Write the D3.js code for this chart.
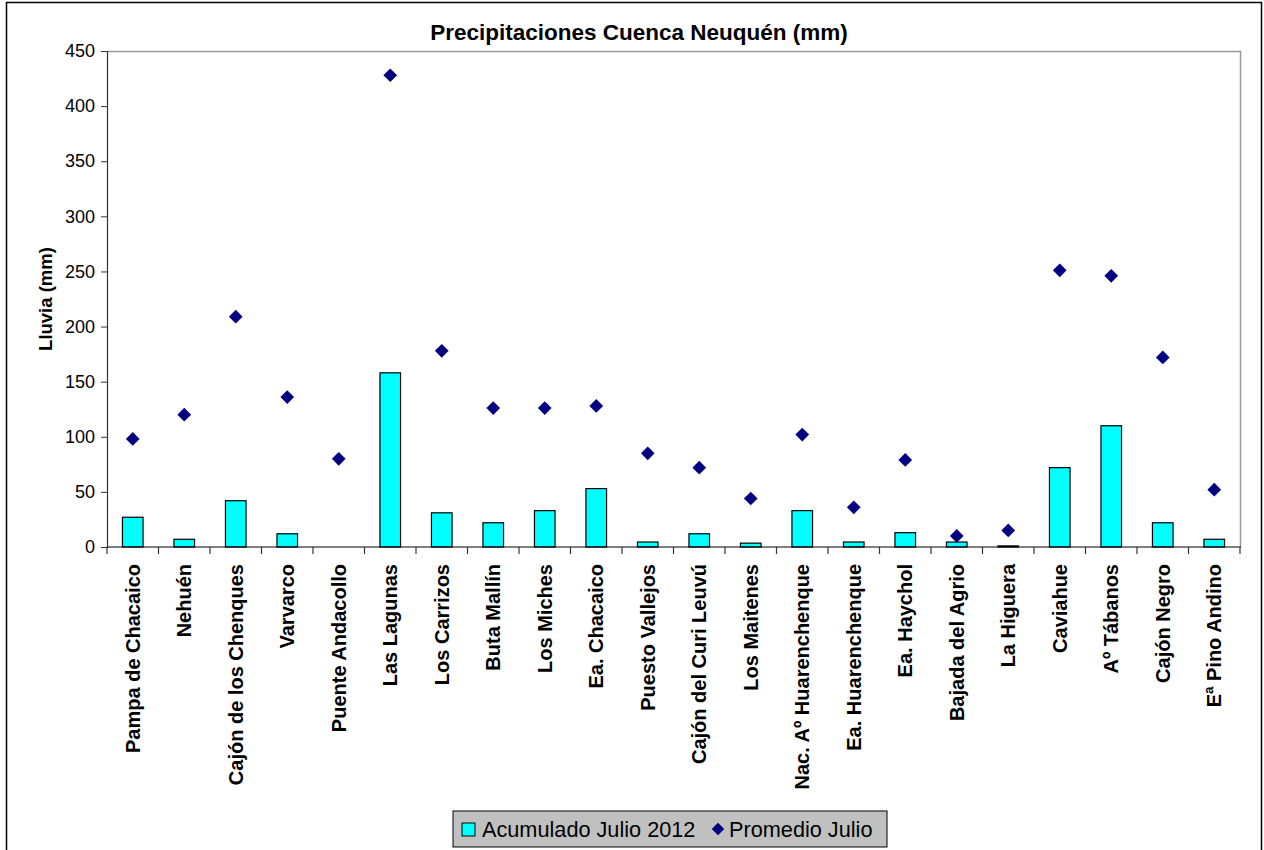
<!DOCTYPE html>
<html>
<head>
<meta charset="utf-8">
<script src="https://cdn.jsdelivr.net/npm/d3@7"></script>
<style>
  html, body { margin: 0; padding: 0; background: #fff; }
  svg { display: block; font-family: Arial, "Liberation Sans", sans-serif; }
</style>
</head>
<body>
<svg id="chart" width="1264" height="850"></svg>
<script>
// Rain gauge stations of the Neuquén basin
const stations = [
  "Pampa de Chacaico", "Nehuén", "Cajón de los Chenques", "Varvarco",
  "Puente Andacollo", "Las Lagunas", "Los Carrizos", "Buta Mallín",
  "Los Miches", "Ea. Chacaico", "Puesto Vallejos", "Cajón del Curi Leuvú",
  "Los Maitenes", "Nac. Aº Huarenchenque", "Ea. Huarenchenque", "Ea. Haychol",
  "Bajada del Agrio", "La Higuera", "Caviahue", "Aº Tábanos",
  "Cajón Negro", "Eª Pino Andino"
];
// July 2012 accumulated rainfall (mm)
const acumulado = [27, 7, 42, 12, 0, 158, 31, 22, 33, 53, 4.5, 12, 3.5, 33, 4.5, 13, 4.5, 1, 72, 110, 22, 7];
// Historical July mean (mm)
const promedio = [98, 120, 209, 136, 80, 428, 178, 126, 126, 128, 85, 72, 44, 102, 36, 79, 10, 15, 251, 246, 172, 52];
const yTicks = [0, 50, 100, 150, 200, 250, 300, 350, 400, 450];

const title = "Precipitaciones Cuenca Neuquén (mm)";
const yTitle = "Lluvia (mm)";
const seriesNames = ["Acumulado Julio 2012", "Promedio Julio"];

const svg = d3.select("#chart");
const plot = { left: 107, top: 51, right: 1240, bottom: 547 };

// Outer chart frame
svg.append("rect")
  .attr("x", 6.5).attr("y", 2.5).attr("width", 1255).attr("height", 860)
  .attr("fill", "#fff").attr("stroke", "#000").attr("stroke-width", 1.5);

const x = d3.scaleBand().domain(stations).range([plot.left, plot.right]).paddingInner(0).paddingOuter(0);
const y = d3.scaleLinear().domain([0, 450]).range([plot.bottom, plot.top]);
const barW = x.bandwidth() / 2.5;

// Plot area border (top and right)
svg.append("path")
  .attr("d", `M${plot.left},${plot.top + 0.5}H${plot.right + 0.5}V${plot.bottom}`)
  .attr("fill", "none").attr("stroke", "#999").attr("stroke-width", 1.5);

// Bars
svg.append("g").selectAll("rect").data(acumulado).join("rect")
  .attr("x", (d, i) => x(stations[i]) + (x.bandwidth() - barW) / 2)
  .attr("y", d => y(d))
  .attr("width", barW)
  .attr("height", d => y(0) - y(d))
  .attr("fill", "#00ffff")
  .attr("stroke", "#000").attr("stroke-width", 1.2)
  .style("display", d => d > 0 ? null : "none");

// Y axis
const yAxis = svg.append("g").attr("transform", `translate(${plot.left},0)`)
  .call(d3.axisLeft(y).tickValues(yTicks).tickSize(6).tickPadding(6));
yAxis.select(".domain").attr("stroke", "#333").attr("stroke-width", 1.2);
yAxis.selectAll(".tick line").attr("stroke", "#333");
yAxis.selectAll(".tick text").attr("font-size", 18).attr("fill", "#000").attr("font-family", "Arial, 'Liberation Sans', sans-serif");

// X axis with tick marks at category boundaries
const xAxisG = svg.append("g").attr("transform", `translate(0,${plot.bottom})`);
xAxisG.append("line").attr("x1", plot.left).attr("x2", plot.right + 1)
  .attr("stroke", "#000").attr("stroke-width", 1.2);
const bounds = stations.map(s => x(s)).concat([plot.right]);
xAxisG.selectAll("line.tk").data(bounds).join("line").attr("class", "tk")
  .attr("x1", d => d).attr("x2", d => d).attr("y1", 0).attr("y2", 7)
  .attr("stroke", "#333").attr("stroke-width", 1.2);
xAxisG.selectAll("text").data(stations).join("text")
  .attr("transform", d => `translate(${x(d) + x.bandwidth() / 2 + 7},${17}) rotate(-90)`)
  .attr("text-anchor", "end")
  .attr("font-size", 20).attr("font-weight", "bold").attr("fill", "#000")
  .text(d => d);

// Diamonds for July mean
const diamond = d3.symbol().type(d3.symbolDiamond2).size(120);
svg.append("g").selectAll("path").data(promedio).join("path")
  .attr("transform", (d, i) => `translate(${x(stations[i]) + x.bandwidth() / 2},${y(d)})`)
  .attr("d", diamond)
  .attr("fill", "#000080");

// Titles
svg.append("text").attr("x", 639).attr("y", 40).attr("text-anchor", "middle")
  .attr("font-size", 22.5).attr("font-weight", "bold").text(title);
svg.append("text").attr("transform", "translate(52,299) rotate(-90)").attr("text-anchor", "middle")
  .attr("font-size", 18.5).attr("font-weight", "bold").text(yTitle);

// Legend
const lg = svg.append("g");
lg.append("rect").attr("x", 453).attr("y", 811).attr("width", 434).attr("height", 36)
  .attr("fill", "#c0c0c0").attr("stroke", "#000").attr("stroke-width", 1);
lg.append("rect").attr("x", 462).attr("y", 823).attr("width", 13).attr("height", 13)
  .attr("fill", "#00ffff").attr("stroke", "#000").attr("stroke-width", 1);
lg.append("text").attr("x", 482).attr("y", 837).attr("font-size", 21.7).text(seriesNames[0]);
lg.append("path").attr("transform", "translate(718,829)").attr("d", d3.symbol().type(d3.symbolDiamond2).size(100)).attr("fill", "#000080");
lg.append("text").attr("x", 729).attr("y", 837).attr("font-size", 21.7).text(seriesNames[1]);
</script>
</body>
</html>
